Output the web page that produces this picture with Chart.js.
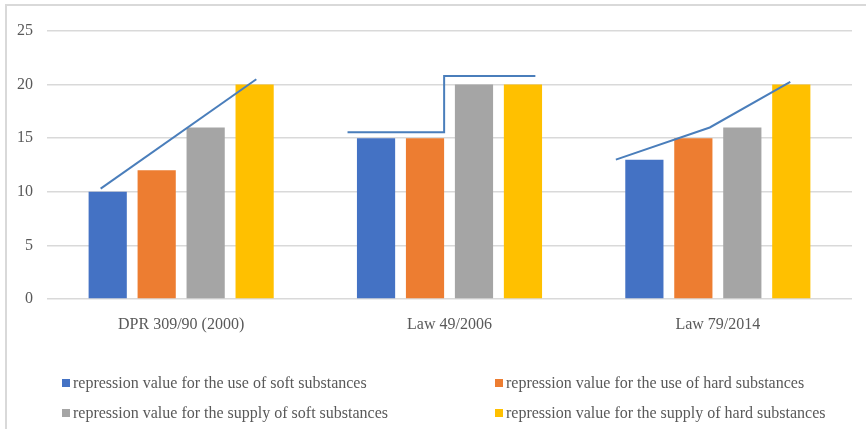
<!DOCTYPE html>
<html>
<head>
<meta charset="utf-8">
<script src="https://cdn.jsdelivr.net/npm/chart.js@4.4.1/dist/chart.umd.min.js"></script>
<style>
  html, body { margin: 0; padding: 0; background: #fff; }
  body { width: 866px; height: 429px; position: relative; overflow: hidden; }
  #frame { position: absolute; left: 5px; top: 4px; width: 900px; height: 500px;
           border-left: 2px solid #d9d9d9; border-top: 2px solid #d9d9d9; }
  #wrap { position: absolute; left: 0; top: 0; width: 866px; height: 429px; }
  .leg { position: absolute; font-family: 'Liberation Serif', 'Times New Roman', serif;
         font-size: 16px; color: #595959; white-space: nowrap; line-height: 18px; }
  .leg i { position: absolute; left: -11px; top: 5px; width: 8px; height: 8px; }
</style>
</head>
<body>
<div id="frame"></div>
<div id="wrap"><canvas id="chart" width="866" height="429"></canvas></div>
<div id="legend"></div>
<script>
const categories = ['DPR 309/90 (2000)', 'Law 49/2006', 'Law 79/2014'];
const seriesNames = [
  'repression value for the use of soft substances',
  'repression value for the use of hard substances',
  'repression value for the supply of soft substances',
  'repression value for the supply of hard substances'
];
const useSoft = [10, 15, 13];
const useHard = [12, 15, 15];
const supplySoft = [16, 20, 16];
const supplyHard = [20, 20, 20];
const yTicks = [0, 5, 10, 15, 20, 25];

// hand-drawn trend strokes, x in category units (0 = first group centre)
const trend1X = [-0.30, 0.28];
const trend1Y = [10.3, 20.5];
const trend2X = [0.62, 0.98, 0.98, 1.32];
const trend2Y = [15.55, 15.55, 20.8, 20.8];
const trend3X = [1.62, 1.97, 2.27];
const trend3Y = [13.0, 16.0, 20.25];

const colors = ['#4472c4', '#ed7d31', '#a5a5a5', '#ffc000'];
const lineColor = '#4a7ebb';
const font = { family: "'Liberation Serif', 'Times New Roman', serif", size: 16 };

function barSet(i, values) {
  return { label: seriesNames[i], data: values, backgroundColor: colors[i],
           borderWidth: 0, categoryPercentage: 0.73, barPercentage: 0.78 };
}

// strokes drawn on top of the bars, placed through the chart's own scales
const trendLines = {
  id: 'trendLines',
  afterDatasetsDraw(chart) {
    const { ctx, scales: { x, y } } = chart;
    const x0 = x.getPixelForValue(0);
    const step = x.getPixelForValue(1) - x0;
    ctx.save();
    ctx.strokeStyle = lineColor;
    ctx.lineWidth = 2;
    ctx.lineJoin = 'miter';
    [[trend1X, trend1Y], [trend2X, trend2Y], [trend3X, trend3Y]].forEach(([xs, ys]) => {
      ctx.beginPath();
      xs.forEach((v, i) => {
        const px = x0 + v * step, py = y.getPixelForValue(ys[i]);
        if (i === 0) ctx.moveTo(px, py); else ctx.lineTo(px, py);
      });
      ctx.stroke();
    });
    ctx.restore();
  }
};

new Chart(document.getElementById('chart'), {
  type: 'bar',
  data: {
    labels: categories,
    datasets: [barSet(0, useSoft), barSet(1, useHard), barSet(2, supplySoft), barSet(3, supplyHard)]
  },
  options: {
    responsive: false,
    animation: false,
    layout: { padding: { top: 31, right: 14, bottom: 80, left: 0 } },
    plugins: { legend: { display: false }, tooltip: { enabled: false } },
    scales: {
      x: {
        grid: { display: false, drawTicks: false },
        border: { display: false },
        ticks: { color: '#595959', font: font, padding: 16, maxRotation: 0 },
        afterFit: s => { s.height = 50; }
      },
      y: {
        min: 0, max: 25,
        afterBuildTicks: s => { s.ticks = yTicks.map(v => ({ value: v })); },
        grid: { color: '#d9d9d9', lineWidth: 1.5, drawTicks: false },
        border: { display: false },
        ticks: { color: '#595959', font: font, padding: 14 },
        afterFit: s => { s.width = 47; }
      }
    }
  },
  plugins: [trendLines]
});

// legend laid out in two columns underneath the plot
const legendPos = [[73, 374], [506, 374], [73, 404], [506, 404]];
const legend = document.getElementById('legend');
seriesNames.forEach((name, i) => {
  const d = document.createElement('div');
  d.className = 'leg';
  d.style.left = legendPos[i][0] + 'px';
  d.style.top = legendPos[i][1] + 'px';
  d.innerHTML = '<i style="background:' + colors[i] + '"></i>' + name;
  legend.appendChild(d);
});
</script>
</body>
</html>
